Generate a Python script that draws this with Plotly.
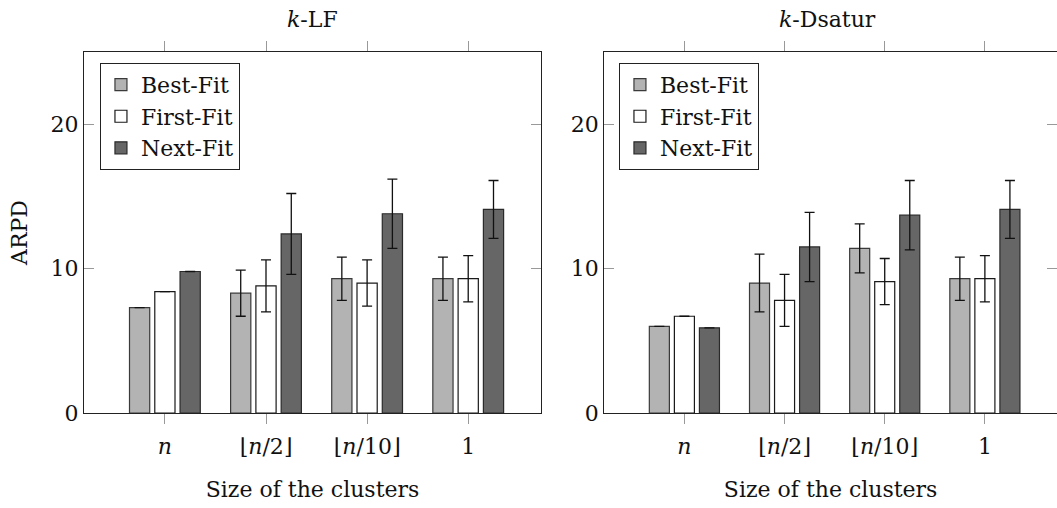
import plotly.graph_objects as go

categories = ["<i>n</i>", "⌊<i>n</i>/2⌋", "⌊<i>n</i>/10⌋", "1"]
series_names = ["Best-Fit", "First-Fit", "Next-Fit"]

# k-LF panel
lf_best = [7.3, 8.3, 9.3, 9.3]
lf_best_err = [0.0, 1.6, 1.5, 1.5]
lf_first = [8.4, 8.8, 9.0, 9.3]
lf_first_err = [0.0, 1.8, 1.6, 1.6]
lf_next = [9.8, 12.4, 13.8, 14.1]
lf_next_err = [0.0, 2.8, 2.4, 2.0]

# k-Dsatur panel
ds_best = [6.0, 9.0, 11.4, 9.3]
ds_best_err = [0.0, 2.0, 1.7, 1.5]
ds_first = [6.7, 7.8, 9.1, 9.3]
ds_first_err = [0.0, 1.8, 1.6, 1.6]
ds_next = [5.9, 11.5, 13.7, 14.1]
ds_next_err = [0.0, 2.4, 2.4, 2.0]

panel_titles = ["<i>k</i>-LF", "<i>k</i>-Dsatur"]
y_title = "ARPD"
x_title = "Size of the clusters"

fills = ["#b3b3b3", "#ffffff", "#666666"]
edges = ["#3a3a3a", "#1a1a1a", "#2a2a2a"]
FONT = "DejaVu Serif"
FS = 22

fig = go.Figure()

panels = [
    ("x", "y", "legend", [(lf_best, lf_best_err), (lf_first, lf_first_err), (lf_next, lf_next_err)]),
    ("x2", "y2", "legend2", [(ds_best, ds_best_err), (ds_first, ds_first_err), (ds_next, ds_next_err)]),
]

for xa, ya, leg, data in panels:
    for i, (vals, errs) in enumerate(data):
        fig.add_trace(go.Bar(
            x=categories, y=vals, name=series_names[i],
            xaxis=xa, yaxis=ya, legend=leg,
            marker=dict(color=fills[i], line=dict(color=edges[i], width=1.2)),
            error_y=dict(type="data", array=errs, visible=True, color="#111111",
                         thickness=1.3, width=5),
        ))

axis_common_x = dict(
    type="category", range=[-0.8, 3.72], showgrid=False, zeroline=False,
    showline=True, linecolor="#222222", linewidth=1.2, mirror="ticks",
    ticks="outside", ticklen=10, tickcolor="#999999", tickwidth=1,
    ticklabelstandoff=3,
    tickfont=dict(family=FONT, size=FS, color="#111111"),
    title=dict(text=x_title, font=dict(family=FONT, size=FS, color="#111111"), standoff=24),
)
axis_common_y = dict(
    range=[0, 25], tickvals=[0, 10, 20], showgrid=False, zeroline=False,
    showline=True, linecolor="#222222", linewidth=1.2, mirror="ticks",
    ticks="inside", ticklen=10, tickcolor="#999999", tickwidth=1,
    tickfont=dict(family=FONT, size=FS, color="#111111"),
)

fig.update_layout(
    width=1057, height=508,
    margin=dict(l=84, r=0, t=52, b=95),
    paper_bgcolor="white", plot_bgcolor="white",
    barmode="group", bargap=0.25, bargroupgap=0.2,
    font=dict(family=FONT, size=FS, color="#111111"),
    xaxis=dict(domain=[0, 0.4697], anchor="y", **axis_common_x),
    xaxis2=dict(domain=[0.5347, 1.0], anchor="y2", **axis_common_x),
    yaxis=dict(anchor="x", title=dict(text=y_title, font=dict(family=FONT, size=FS), standoff=16), **axis_common_y),
    yaxis2=dict(anchor="x2", **axis_common_y),
    legend=dict(x=0.0164, y=0.97, xanchor="left", yanchor="top",
                bordercolor="#222222", borderwidth=1, bgcolor="white",
                font=dict(family=FONT, size=FS), tracegroupgap=0, itemwidth=30),
    legend2=dict(x=0.5498, y=0.97, xanchor="left", yanchor="top",
                 bordercolor="#222222", borderwidth=1, bgcolor="white",
                 font=dict(family=FONT, size=FS), tracegroupgap=0, itemwidth=30),
    showlegend=True,
    annotations=[
        dict(text=panel_titles[0], xref="paper", yref="paper", x=0.4697 / 2, y=1.090,
             showarrow=False, xanchor="center", yanchor="middle", font=dict(family=FONT, size=FS)),
        dict(text=panel_titles[1], xref="paper", yref="paper", x=(0.5347 + 1.0) / 2 - 0.003, y=1.090,
             showarrow=False, xanchor="center", yanchor="middle", font=dict(family=FONT, size=FS)),
    ],
)

fig.write_html("out.html", config={"displayModeBar": False},
               post_script="document.body.style.margin='0';")
